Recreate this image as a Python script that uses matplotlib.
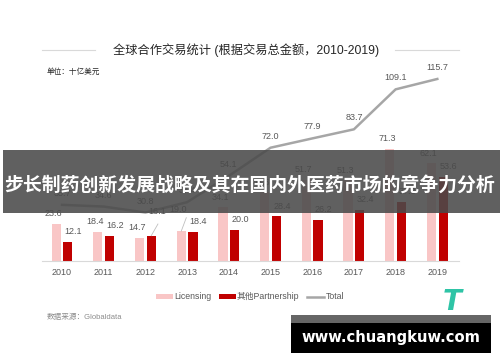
import numpy as np
import matplotlib.pyplot as plt
from matplotlib.patches import Rectangle
from matplotlib.lines import Line2D

plt.rcParams['font.family'] = ['Liberation Sans', 'Noto Sans CJK SC', 'DejaVu Sans']

years = ['2010', '2011', '2012', '2013', '2014', '2015', '2016', '2017', '2018', '2019']
licensing = [23.6, 18.4, 14.7, 19.0, 34.1, 43.6, 51.7, 51.3, 71.3, 62.1]
partnership = [12.1, 16.2, 16.1, 18.4, 20.0, 28.4, 26.2, 32.4, 37.8, 53.6]
total = [35.7, 34.6, 30.8, 37.4, 54.1, 72.0, 77.9, 83.7, 109.1, 115.7]

c_lic = '#f9c6c6'
c_par = '#c00000'
c_tot = '#a6a6a6'
c_txt = '#595959'

fig = plt.figure(figsize=(5, 3.62), dpi=100)
ax = fig.add_axes([0.084, 0.279, 0.834, 0.565])

x = np.arange(len(years))
w = 0.22
b1 = ax.bar(x - 0.14, licensing, w, color=c_lic)
b2 = ax.bar(x + 0.14, partnership, w, color=c_par)
l1, = ax.plot(x, total, color=c_tot, lw=1.8)

for i in range(len(years)):
    dy_l, dy_p = 4, 4
    if i == 3:
        dy_l = 12
    if i == 2:
        dy_p = 14
    ax.annotate(f'{licensing[i]:.1f}', (x[i] - 0.14, licensing[i]), xytext=(-2, dy_l),
                textcoords='offset points', ha='center', va='bottom', fontsize=6.5, color=c_txt)
    ax.annotate(f'{partnership[i]:.1f}', (x[i] + 0.14, partnership[i]), xytext=(4, dy_p),
                textcoords='offset points', ha='center', va='bottom', fontsize=6.5, color=c_txt)
    ax.annotate(f'{total[i]:.1f}', (x[i], total[i]), xytext=(0, 5),
                textcoords='offset points', ha='center', va='bottom', fontsize=6.5, color=c_txt)

# leader lines
ax.plot([2.14, 2.3], [16.1, 23.5], color='#bfbfbf', lw=0.6)
ax.plot([2.86, 2.98], [19.0, 27.5], color='#bfbfbf', lw=0.6)

ax.set_xlim(-0.48, 9.52)
ax.set_ylim(0, 130)
ax.set_xticks(x)
ax.set_xticklabels(years, fontsize=6.5, color=c_txt)
ax.tick_params(axis='x', length=0, pad=5)
ax.set_yticks([])
for s in ['top', 'right', 'left']:
    ax.spines[s].set_visible(False)
ax.spines['bottom'].set_color('#d9d9d9')

# title with side lines
fig.text(0.492, 0.862, '全球合作交易统计 (根据交易总金额，2010-2019)', ha='center', va='center',
         fontsize=8.8, color='#262626')
fig.add_artist(Line2D([0.084, 0.19], [0.862, 0.862], color='#d9d9d9', lw=0.8))
fig.add_artist(Line2D([0.79, 0.918], [0.862, 0.862], color='#d9d9d9', lw=0.8))
fig.text(0.094, 0.801, '单位：十亿美元', ha='left', va='center', fontsize=5.5, color='#262626')

fig.legend([b1, b2, l1], ['Licensing', '其他Partnership', 'Total'], loc='center',
           bbox_to_anchor=(0.5, 0.18), ncol=3, frameon=False, fontsize=6.3,
           handlelength=1.9, handleheight=0.5, columnspacing=0.9, handletextpad=0.15,
           labelcolor=c_txt)
fig.text(0.094, 0.124, '数据来源：Globaldata', ha='left', va='center', fontsize=5.5, color='#8c8c8c')

# banner overlay
fig.add_artist(Rectangle((0.006, 0.412), 0.994, 0.174, transform=fig.transFigure,
                         facecolor='#4a4a4a', alpha=0.88, edgecolor='none'))
fig.text(0.5, 0.489, '步长制药创新发展战略及其在国内外医药市场的竞争力分析', ha='center', va='center',
         fontsize=13.6, color='white', fontweight='bold', family='Noto Sans CJK SC')

# logo
fig.text(0.905, 0.165, 'T', ha='center', va='center', fontsize=20, color='#2ec4a6',
         fontweight='bold', fontstyle='italic', family='DejaVu Sans')

# watermark
fig.add_artist(Rectangle((0.582, 0.108), 0.4, 0.022, transform=fig.transFigure,
                         facecolor='#666666', edgecolor='none'))
fig.add_artist(Rectangle((0.582, 0.025), 0.4, 0.084, transform=fig.transFigure,
                         facecolor='black', edgecolor='none'))
fig.text(0.782, 0.067, 'www.chuangkuw.com', ha='center', va='center', fontsize=10.6,
         color='white', fontweight='bold', family='DejaVu Sans')

fig.savefig('out.png', dpi=100)
